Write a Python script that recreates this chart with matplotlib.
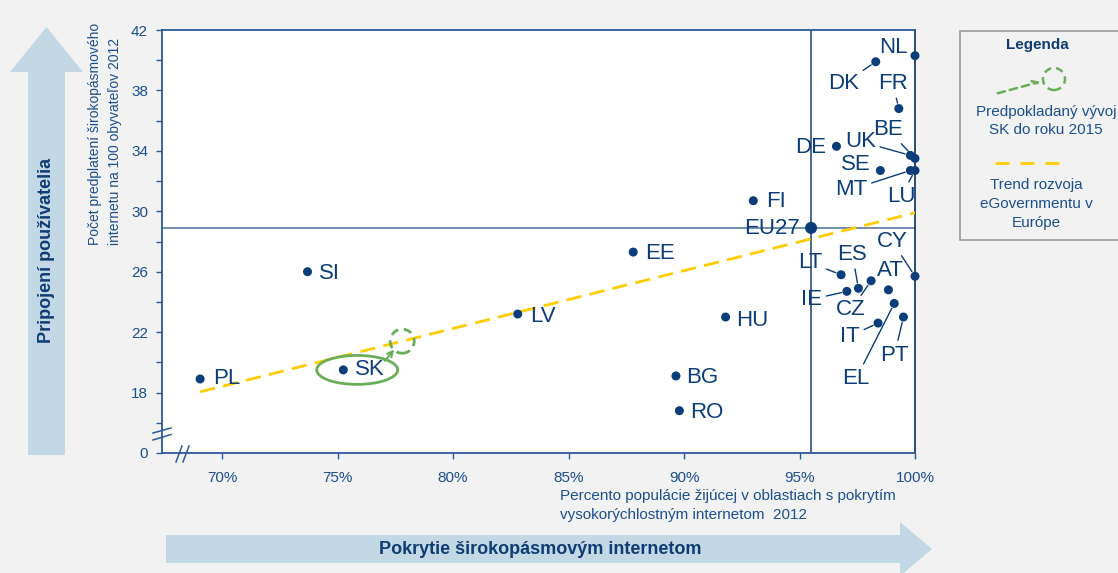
'''
Broadband coverage vs. subscriptions, EU 2012
'''

import numpy as np
import matplotlib.pyplot as plt
from matplotlib.patches import Polygon, Rectangle, Ellipse, FancyArrowPatch
from matplotlib.lines import Line2D

plt.rcParams['font.family'] = ['Liberation Sans', 'DejaVu Sans']

W, H = 1118, 573

countries = ["NL", "DK", "FR", "DE", "UK", "BE", "SE", "MT", "LU", "FI",
             "EU27", "EE", "SI", "LV", "HU", "PL", "SK", "BG", "RO",
             "CY", "LT", "ES", "IE", "CZ", "AT", "EL", "IT", "PT"]
coverage = [100.0, 98.3, 99.3, 96.6, 99.8, 100.0, 98.5, 99.8, 100.0, 93.0,
            95.5, 87.8, 73.7, 82.8, 91.8, 69.05, 75.25, 89.65, 89.8,
            100.0, 96.8, 97.55, 97.05, 98.1, 98.85, 99.1, 98.4, 99.5]
subscriptions = [40.3, 39.9, 36.8, 34.3, 33.7, 33.5, 32.7, 32.7, 32.7, 30.7,
                 28.9, 27.3, 26.0, 23.2, 23.0, 18.9, 19.5, 19.1, 16.8,
                 25.7, 25.8, 24.9, 24.7, 25.4, 24.8, 23.9, 22.6, 23.0]

# label offsets (pixels, text centre relative to dot) and whether a leader line is drawn
label_offsets = {
    "NL": (-22, 8, False), "DK": (-32, -22, True), "FR": (-6, 25, True),
    "DE": (-26, -1, False), "UK": (-50, 14, True), "BE": (-27, 29, True),
    "SE": (-25, 6, False), "MT": (-59, -19, True), "LU": (-14, -26, True),
    "FI": (23, -1, False), "EU27": (-39, -1, False), "EE": (27, -1, False),
    "SI": (22, -2, False), "LV": (25, -2, False), "HU": (27, -3, False),
    "PL": (27, 0, False), "SK": (27, 0, False), "BG": (26, -2, False),
    "RO": (27, -2, False), "CY": (-23, 35, True), "LT": (-31, 12, True),
    "ES": (-6, 34, True), "IE": (-35, -8, True), "CZ": (-20, -29, True),
    "AT": (2, 19, False), "EL": (-38, -75, True), "IT": (-28, -13, True),
    "PT": (-9, -38, True),
}

# trend line and SK forecast
trend_x = [69.05, 100.0]
trend_y = [18.05, 29.9]
sk_target = (77.8, 21.4)

x_ticks = [70, 75, 80, 85, 90, 95, 100]
y_ticks = [14, 18, 22, 26, 30, 34, 38, 42]
y_ticklabels = ["0", "18", "22", "26", "30", "34", "38", "42"]

navy = '#0a3d7a'
axis_blue = '#2a5a9a'
text_blue = '#1c4f8f'
arrow_col = '#c2d8e5'
green = '#6aae5a'
gold = '#ffcc00'


def px(x, y):
    return x / W, 1 - y / H


fig = plt.figure(figsize=(W / 100, H / 100), dpi=100, facecolor='#f2f2f2')

# big arrows
vert = [(28, 455), (28, 72), (10, 72), (46.5, 27), (83, 72), (65, 72), (65, 455)]
fig.patches.append(Polygon([px(*p) for p in vert], closed=True, facecolor=arrow_col,
                           edgecolor='none', transform=fig.transFigure))
horiz = [(166, 535), (900, 535), (900, 522), (932, 549), (900, 576), (900, 563), (166, 563)]
fig.patches.append(Polygon([px(*p) for p in horiz], closed=True, facecolor=arrow_col,
                           edgecolor='none', transform=fig.transFigure))
fig.text(*px(46.5, 250), "Pripojení používatelia", rotation=90, ha='center', va='center',
         fontsize=13, fontweight='bold', color='#0f3c73')
fig.text(*px(540, 549), "Pokrytie širokopásmovým internetom", ha='center', va='center',
         fontsize=13, fontweight='bold', color='#0f3c73')

# main axes
l, t = px(162, 30)
r, b = px(915, 453)
ax = fig.add_axes([l, b, r - l, t - b])
ax.set_facecolor('white')
ax.set_xlim(67.4, 100)
ax.set_ylim(14, 42)
for s in ax.spines.values():
    s.set_color(axis_blue)
    s.set_linewidth(1.3)
ax.spines['right'].set_color('#1a3f6f')

ax.set_xticks(x_ticks)
ax.set_xticklabels([f"{v}%" for v in x_ticks])
ax.set_yticks(y_ticks)
ax.set_yticklabels(y_ticklabels)
ax.set_yticks([16, 20, 24, 28, 32, 36, 40], minor=True)
ax.tick_params(axis='both', which='both', colors=axis_blue, labelcolor=text_blue,
               labelsize=11, length=4, width=1)
ax.tick_params(axis='x', pad=9)
ax.tick_params(axis='y', pad=6)

# EU27 reference lines
eu_x = coverage[countries.index("EU27")]
eu_y = subscriptions[countries.index("EU27")]
ax.axvline(eu_x, color='#1a3f6f', lw=1.1, zorder=2)
ax.axhline(eu_y, color='#4a6f98', lw=1.1, zorder=2)

# trend
ax.plot(trend_x, trend_y, color=gold, lw=2, dashes=(5.5, 3), zorder=3)

# points
sizes = [75 if c == "EU27" else 42 for c in countries]
ax.scatter(coverage, subscriptions, s=sizes, color=navy, zorder=5, clip_on=False,
           edgecolors='none')

for c, xv, yv in zip(countries, coverage, subscriptions):
    dx, dy, lead = label_offsets[c]
    kw = {}
    if lead:
        kw['arrowprops'] = dict(arrowstyle='-', color=navy, lw=1, shrinkA=1, shrinkB=4)
    ax.annotate(c, (xv, yv), xytext=(dx, dy), textcoords='offset pixels',
                ha='center', va='center', fontsize=16, color=navy,
                annotation_clip=False, zorder=6, **kw)

# SK forecast markers
sk_x = coverage[countries.index("SK")]
sk_y = subscriptions[countries.index("SK")]
ax.add_patch(Ellipse((sk_x + 0.6, sk_y), width=81 / 23.1, height=29 / 15.125,
                     fill=False, edgecolor=green, lw=2, zorder=4))
ax.add_patch(Ellipse(sk_target, width=24 / 23.1, height=24 / 15.125, fill=False,
                     edgecolor=green, lw=2, ls=(0, (3, 2)), zorder=4))
ax.annotate("", xy=(sk_target[0] - 0.35, sk_target[1] - 0.55),
            xytext=(sk_x + 1.8, sk_y + 0.6),
            arrowprops=dict(arrowstyle='->', color=green, lw=1.5, shrinkA=0, shrinkB=0))

# axis break marks
for seg in [((153, 433), (171, 428)), ((153, 440), (171, 434.5)),
            ((176, 462), (182, 446)), ((183, 462), (189, 446))]:
    (x0, y0), (x1, y1) = px(*seg[0]), px(*seg[1])
    fig.lines.append(Line2D([x0, x1], [y0, y1], color=axis_blue, lw=1.1,
                            transform=fig.transFigure))

# axis titles
fig.text(*px(105, 245), "Počet predplatení širokopásmového\ninternetu na 100 obyvateľov 2012",
         rotation=90, ha='center', va='bottom', multialignment='left',
         fontsize=10, color=text_blue, linespacing=1.6)
fig.text(*px(560, 489), "Percento populácie žijúcej v oblastiach s pokrytím\n"
         "vysokorýchlostným internetom  2012", ha='left', va='top',
         fontsize=11, color=text_blue, linespacing=1.45)

# legend box
lx, ly = px(960, 240)
fig.patches.append(Rectangle((lx, ly), 0.2, (240 - 31) / H, transform=fig.transFigure,
                             facecolor='#f2f2f2', edgecolor='#9a9a9a', lw=1.2))
fig.text(*px(1037, 45), "Legenda", ha='center', va='center', fontsize=11,
         fontweight='bold', color='#0f3c73')
a0, a1 = px(995, 94), px(1043, 81)
fig.patches.append(FancyArrowPatch(
    a0, a1, transform=fig.transFigure, arrowstyle='->', mutation_scale=10,
    color=green, lw=1.8, linestyle=(0, (3, 2))))
cx, cy = px(1054, 79)
fig.patches.append(Ellipse((cx, cy), 22 / W, 22 / H, transform=fig.transFigure,
                           fill=False, edgecolor=green, lw=1.8, ls=(0, (3, 2))))
fig.text(*px(1046, 121), "Predpokladaný vývoj\nSK do roku 2015", ha='center', va='center',
         fontsize=11, color=text_blue, linespacing=1.45)
y0 = px(0, 163)[1]
fig.lines.append(Line2D([px(995, 0)[0], px(1065, 0)[0]], [y0, y0], color=gold, lw=2,
                        dashes=(5, 4), transform=fig.transFigure))
fig.text(*px(1036, 204), "Trend rozvoja\neGovernmentu v\nEurópe", ha='center', va='center',
         fontsize=11, color=text_blue, linespacing=1.45)

fig.savefig("out.png", dpi=100, facecolor=fig.get_facecolor())
